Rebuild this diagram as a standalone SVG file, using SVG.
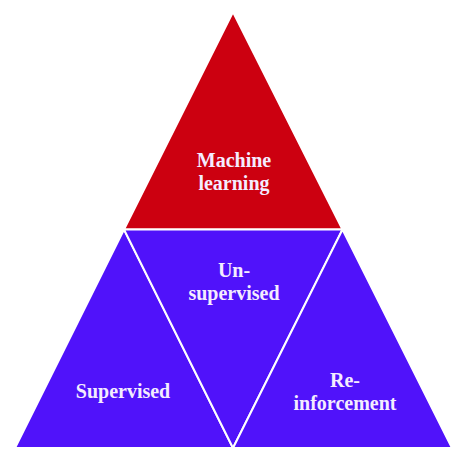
<svg xmlns="http://www.w3.org/2000/svg" width="474" height="461" viewBox="0 0 474 461">
<style>
.red{fill:#CC0010;stroke:#fff;stroke-width:2;stroke-linejoin:miter}
.blue{fill:#5012FA;stroke:#fff;stroke-width:2;stroke-linejoin:miter}
.t{font-family:"Liberation Serif","Times New Roman",serif;font-weight:bold;font-size:20px;fill:#F4ECFF;text-anchor:middle}
</style>
<rect width="474" height="461" fill="#fff"/>
<g id="machine-learning">
<polygon class="red" points="233,12 124,229.5 342.5,229.5"/>
<text class="t" x="234" y="167">Machine</text>
<text class="t" x="234" y="190">learning</text>
</g>
<g id="supervised">
<polygon class="blue" points="124,229.5 15,448 233,448"/>
<text class="t" x="123" y="398">Supervised</text>
</g>
<g id="unsupervised">
<polygon class="blue" points="124,229.5 342.5,229.5 233,448"/>
<text class="t" x="234" y="277">Un-</text>
<text class="t" x="234" y="300">supervised</text>
</g>
<g id="reinforcement">
<polygon class="blue" points="342.5,229.5 233,448 452,448"/>
<text class="t" x="345" y="387">Re-</text>
<text class="t" x="345" y="410">inforcement</text>
</g>
<g id="connectors"></g>
</svg>
